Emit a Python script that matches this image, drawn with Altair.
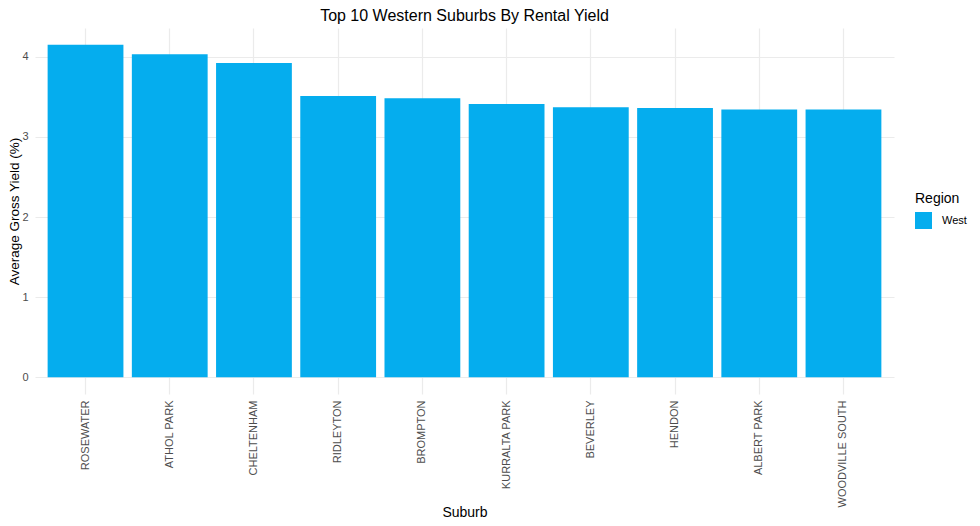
import altair as alt
import pandas as pd

suburbs = ["ROSEWATER", "ATHOL PARK", "CHELTENHAM", "RIDLEYTON", "BROMPTON",
           "KURRALTA PARK", "BEVERLEY", "HENDON", "ALBERT PARK", "WOODVILLE SOUTH"]
yields = [4.15, 4.03, 3.92, 3.51, 3.48, 3.41, 3.37, 3.36, 3.34, 3.34]
regions = ["West"] * 10
y_ticks = [0, 0.5, 1, 1.5, 2, 2.5, 3, 3.5, 4]

df = pd.DataFrame({"Suburb": suburbs, "Yield": yields, "Region": regions})

ymax = max(yields)
ydom = [-0.05 * ymax, ymax * 1.05]

FONT = "Liberation Sans"

chart = alt.Chart(df).mark_bar(color="#05ADEE").encode(
    x=alt.X("Suburb:N", sort=suburbs, title="Suburb",
            scale=alt.Scale(paddingInner=0.1, paddingOuter=0.15),
            axis=alt.Axis(labelAngle=270, labelAlign="right", labelBaseline="middle",
                          labelPadding=6, ticks=False, domain=False, grid=True,
                          gridColor="#EBEBEB", gridWidth=1.2, bandPosition=0.5,
                          labelFontSize=11, labelColor="#4D4D4D", labelFont=FONT,
                          titleFont=FONT, titleFontSize=14, titleFontWeight="normal",
                          titleColor="black", titleY=122, titleBaseline="alphabetic")),
    y=alt.Y("Yield:Q", title="Average Gross Yield (%)",
            scale=alt.Scale(domain=ydom, nice=False, zero=False),
            axis=alt.Axis(values=y_ticks, format="d",
                          labelExpr="datum.value % 1 === 0 ? datum.label : ''",
                          ticks=False, domain=False, grid=True, gridColor="#EBEBEB",
                          gridWidth={"condition": {"test": "datum.value % 1 === 0", "value": 1.2}, "value": 0.6},
                          labelPadding=7, labelFontSize=11, labelColor="#4D4D4D", labelFont=FONT,
                          titleFont=FONT, titleFontSize=13.5, titleFontWeight="normal",
                          titleColor="black", titleAngle=270, titleX=-17, titleY=183,
                          titleAlign="center", titleBaseline="alphabetic")),
    color=alt.Color("Region:N", scale=alt.Scale(range=["#05ADEE"]),
                    legend=alt.Legend(orient="none", legendX=880, legendY=164,
                                      symbolType="square", symbolSize=289,
                                      symbolStrokeWidth=0, symbolOpacity=1,
                                      titleFont=FONT, titleFontSize=14, titleFontWeight="normal",
                                      titleColor="black", titlePadding=6,
                                      labelFont=FONT, labelFontSize=11, labelColor="black",
                                      labelOffset=10)),
).properties(
    width=859, height=366,
    title=alt.TitleParams("Top 10 Western Suburbs By Rental Yield", font=FONT, fontSize=16,
                          fontWeight="normal", color="black", anchor="middle", offset=4),
    autosize=alt.AutoSizeParams(type="none"),
    padding={"left": 27, "top": 20, "right": 78, "bottom": 126},
).configure_view(stroke=None)

chart.save("out.html", embed_options={"renderer": "svg", "actions": False})
